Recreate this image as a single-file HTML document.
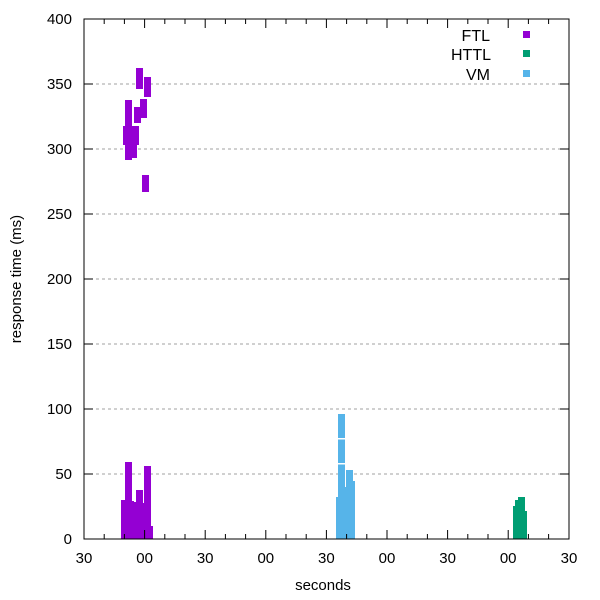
<!DOCTYPE html>
<html><head><style>body{margin:0;background:#fff}svg{display:block;font-family:"Liberation Sans",sans-serif}</style></head>
<body>
<svg width="600" height="600" viewBox="0 0 600 600" xmlns="http://www.w3.org/2000/svg">
<rect width="600" height="600" fill="#fff"/>
<g stroke="#a0a0a0" stroke-dasharray="3,3" stroke-width="1">
<line x1="84" y1="474" x2="569" y2="474"/><line x1="84" y1="409" x2="569" y2="409"/>
<line x1="84" y1="344" x2="569" y2="344"/><line x1="84" y1="279" x2="569" y2="279"/>
<line x1="84" y1="214" x2="569" y2="214"/><line x1="84" y1="149" x2="569" y2="149"/>
<line x1="84" y1="84" x2="569" y2="84"/>
</g>
<g fill="#9400d3">
<rect x="136" y="68" width="7" height="21"/><rect x="144" y="77" width="7" height="20"/>
<rect x="125" y="100" width="7" height="60"/><rect x="123" y="126" width="16" height="19"/>
<rect x="134" y="107" width="7" height="16"/><rect x="140" y="99" width="7" height="19"/>
<rect x="132" y="145" width="5" height="13"/><rect x="142" y="175" width="7" height="17"/>
<rect x="121" y="500" width="5" height="39"/><rect x="125" y="462" width="7" height="77"/>
<rect x="132" y="501" width="2" height="38"/><rect x="134" y="502" width="2" height="37"/>
<rect x="136" y="490" width="7" height="49"/><rect x="143" y="503" width="1" height="36"/>
<rect x="144" y="466" width="7" height="73"/><rect x="151" y="526" width="2" height="13"/>
</g>
<g fill="#56b4e9">
<rect x="336" y="497" width="2" height="42"/><rect x="338" y="414" width="7" height="125"/>
<rect x="345" y="487" width="1" height="52"/><rect x="346" y="470" width="7" height="69"/>
<rect x="353" y="481" width="2" height="58"/>
</g>
<g fill="#fff"><rect x="338" y="438" width="7" height="1.5"/><rect x="338" y="463" width="7" height="1.5"/></g>
<g fill="#009e73">
<rect x="513" y="506" width="2" height="33"/><rect x="515" y="500" width="3" height="39"/>
<rect x="518" y="497" width="7" height="42"/><rect x="525" y="511" width="2" height="28"/>
</g>
<g stroke="#000" stroke-width="1" fill="none">
<rect x="84" y="19" width="485" height="520"/>
</g>
<g stroke="#000" stroke-width="1">
<line x1="84" y1="539" x2="84" y2="530"/><line x1="144.6" y1="539" x2="144.6" y2="530"/>
<line x1="205.2" y1="539" x2="205.2" y2="530"/><line x1="265.8" y1="539" x2="265.8" y2="530"/>
<line x1="326.4" y1="539" x2="326.4" y2="530"/><line x1="387" y1="539" x2="387" y2="530"/>
<line x1="447.6" y1="539" x2="447.6" y2="530"/><line x1="508.2" y1="539" x2="508.2" y2="530"/>
<line x1="84" y1="19" x2="84" y2="28"/><line x1="144.6" y1="19" x2="144.6" y2="28"/>
<line x1="205.2" y1="19" x2="205.2" y2="28"/><line x1="265.8" y1="19" x2="265.8" y2="28"/>
<line x1="326.4" y1="19" x2="326.4" y2="28"/><line x1="387" y1="19" x2="387" y2="28"/>
<line x1="447.6" y1="19" x2="447.6" y2="28"/><line x1="508.2" y1="19" x2="508.2" y2="28"/>
</g>
<g stroke="#000" stroke-width="1">
<line x1="104.2" y1="539" x2="104.2" y2="534"/><line x1="124.4" y1="539" x2="124.4" y2="534"/>
<line x1="164.8" y1="539" x2="164.8" y2="534"/><line x1="185" y1="539" x2="185" y2="534"/>
<line x1="225.4" y1="539" x2="225.4" y2="534"/><line x1="245.6" y1="539" x2="245.6" y2="534"/>
<line x1="286" y1="539" x2="286" y2="534"/><line x1="306.2" y1="539" x2="306.2" y2="534"/>
<line x1="346.6" y1="539" x2="346.6" y2="534"/><line x1="366.8" y1="539" x2="366.8" y2="534"/>
<line x1="407.2" y1="539" x2="407.2" y2="534"/><line x1="427.4" y1="539" x2="427.4" y2="534"/>
<line x1="467.8" y1="539" x2="467.8" y2="534"/><line x1="488" y1="539" x2="488" y2="534"/>
<line x1="528.4" y1="539" x2="528.4" y2="534"/><line x1="548.6" y1="539" x2="548.6" y2="534"/>
<line x1="104.2" y1="19" x2="104.2" y2="24"/><line x1="124.4" y1="19" x2="124.4" y2="24"/>
<line x1="164.8" y1="19" x2="164.8" y2="24"/><line x1="185" y1="19" x2="185" y2="24"/>
<line x1="225.4" y1="19" x2="225.4" y2="24"/><line x1="245.6" y1="19" x2="245.6" y2="24"/>
<line x1="286" y1="19" x2="286" y2="24"/><line x1="306.2" y1="19" x2="306.2" y2="24"/>
<line x1="346.6" y1="19" x2="346.6" y2="24"/><line x1="366.8" y1="19" x2="366.8" y2="24"/>
<line x1="407.2" y1="19" x2="407.2" y2="24"/><line x1="427.4" y1="19" x2="427.4" y2="24"/>
<line x1="467.8" y1="19" x2="467.8" y2="24"/><line x1="488" y1="19" x2="488" y2="24"/>
<line x1="528.4" y1="19" x2="528.4" y2="24"/><line x1="548.6" y1="19" x2="548.6" y2="24"/>
<line x1="84" y1="474" x2="93" y2="474"/><line x1="84" y1="409" x2="93" y2="409"/>
<line x1="84" y1="344" x2="93" y2="344"/><line x1="84" y1="279" x2="93" y2="279"/>
<line x1="84" y1="214" x2="93" y2="214"/><line x1="84" y1="149" x2="93" y2="149"/>
<line x1="84" y1="84" x2="93" y2="84"/>
<line x1="569" y1="474" x2="560" y2="474"/><line x1="569" y1="409" x2="560" y2="409"/>
<line x1="569" y1="344" x2="560" y2="344"/><line x1="569" y1="279" x2="560" y2="279"/>
<line x1="569" y1="214" x2="560" y2="214"/><line x1="569" y1="149" x2="560" y2="149"/>
<line x1="569" y1="84" x2="560" y2="84"/>
</g>
<g font-size="15" fill="#000" text-anchor="end">
<text x="72" y="544">0</text><text x="72" y="479">50</text><text x="72" y="414">100</text>
<text x="72" y="349">150</text><text x="72" y="284">200</text><text x="72" y="219">250</text>
<text x="72" y="154">300</text><text x="72" y="89">350</text><text x="72" y="24">400</text>
</g>
<g font-size="15" fill="#000" text-anchor="middle">
<text x="84" y="563">30</text><text x="144.6" y="563">00</text><text x="205.2" y="563">30</text>
<text x="265.8" y="563">00</text><text x="326.4" y="563">30</text><text x="387" y="563">00</text>
<text x="447.6" y="563">30</text><text x="508.2" y="563">00</text><text x="569" y="563">30</text>
<text x="323" y="590">seconds</text>
<text transform="translate(21,279) rotate(-90)">response time (ms)</text>
</g>
<g font-size="16" fill="#000" text-anchor="end">
<text x="490" y="41">FTL</text><text x="491" y="60">HTTL</text><text x="490" y="80">VM</text>
</g>
<rect x="523" y="31" width="7" height="7" fill="#9400d3"/>
<rect x="523" y="50" width="7" height="7" fill="#009e73"/>
<rect x="523" y="70" width="7" height="7" fill="#56b4e9"/>
</svg>
</body></html>
